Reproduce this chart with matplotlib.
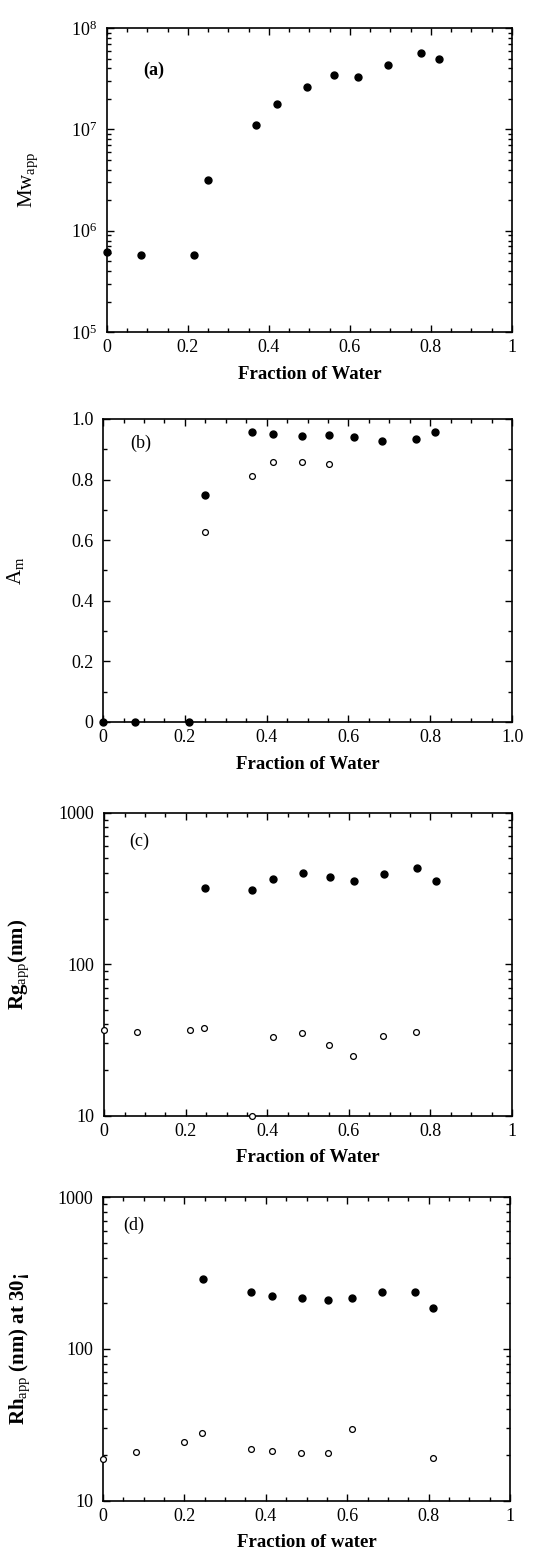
import matplotlib
matplotlib.use("Agg")
import matplotlib.pyplot as plt
from matplotlib.ticker import LogLocator, MultipleLocator, NullFormatter

plt.rcParams["font.family"] = ["Liberation Serif", "DejaVu Serif"]
plt.rcParams["mathtext.fontset"] = "custom"
plt.rcParams["mathtext.rm"] = "Liberation Serif"
plt.rcParams["mathtext.it"] = "Liberation Serif:italic"
plt.rcParams["mathtext.bf"] = "Liberation Serif:bold"

# (a) apparent molecular weight
mw_x = [0.0, 0.084, 0.214, 0.249, 0.368, 0.42, 0.495, 0.56, 0.62, 0.693, 0.775, 0.821]
mw_y = [6.2e5, 5.7e5, 5.7e5, 3.2e6, 1.1e7, 1.77e7, 2.6e7, 3.45e7, 3.3e7, 4.3e7, 5.7e7, 4.9e7]

# (b) A_m, filled and open
am_fx = [0.0, 0.079, 0.209, 0.248, 0.363, 0.416, 0.486, 0.553, 0.613, 0.683, 0.765, 0.812]
am_fy = [0.0, 0.0, 0.0, 0.75, 0.956, 0.952, 0.943, 0.947, 0.941, 0.927, 0.934, 0.956]
am_ox = [0.248, 0.363, 0.416, 0.486, 0.553]
am_oy = [0.627, 0.812, 0.859, 0.859, 0.851]

# (c) Rg_app
rg_fx = [0.246, 0.363, 0.415, 0.488, 0.554, 0.613, 0.686, 0.766, 0.813]
rg_fy = [317, 309, 366, 400, 378, 354, 394, 430, 356]
rg_ox = [0.0, 0.081, 0.21, 0.245, 0.362, 0.413, 0.486, 0.552, 0.611, 0.684, 0.764]
rg_oy = [36.6, 35.7, 36.7, 37.9, 10.0, 33.0, 35.3, 29.4, 24.9, 33.7, 35.8]

# (d) Rh_app
rh_fx = [0.246, 0.364, 0.415, 0.488, 0.554, 0.613, 0.686, 0.767, 0.812]
rh_fy = [291, 238, 222, 217, 209, 216, 236, 236, 185]
rh_ox = [0.0, 0.081, 0.2, 0.244, 0.363, 0.414, 0.487, 0.553, 0.612, 0.812]
rh_oy = [18.8, 21.0, 24.5, 28.1, 22.0, 21.4, 20.7, 20.7, 29.5, 19.1]

x_ticks = [0, 0.2, 0.4, 0.6, 0.8, 1]
x_labels = ["0", "0.2", "0.4", "0.6", "0.8", "1"]

fig = plt.figure(figsize=(5.34, 15.53), dpi=100)
ax_a = fig.add_axes([0.2004, 0.7862, 0.758, 0.1957])
ax_b = fig.add_axes([0.193, 0.5351, 0.766, 0.1951])
ax_c = fig.add_axes([0.1953, 0.2816, 0.7635, 0.1951])
ax_d = fig.add_axes([0.193, 0.0337, 0.762, 0.1954])


def style(ax):
    ax.tick_params(which="both", direction="in", top=True, right=True,
                   labelsize=13, width=1)
    ax.tick_params(which="major", length=5)
    ax.tick_params(which="minor", length=3)
    ax.tick_params(axis="x", pad=5)
    ax.tick_params(axis="y", pad=7)
    for s in ax.spines.values():
        s.set_linewidth(1.2)
    ax.set_xlim(0, 1)
    ax.xaxis.set_minor_locator(MultipleLocator(0.05))


def filled(ax, x, y):
    ax.plot(x, y, "o", color="black", ms=5, clip_on=False, zorder=5)


def hollow(ax, x, y):
    ax.plot(x, y, "o", mfc="white", mec="black", mew=0.9, ms=4.2,
            clip_on=False, zorder=5)


def log_y(ax, lo, hi):
    ax.set_yscale("log")
    ax.set_ylim(lo, hi)
    ax.yaxis.set_minor_locator(LogLocator(base=10, subs=range(2, 10)))
    ax.yaxis.set_minor_formatter(NullFormatter())


def xlab(ax, text):
    ax.set_xlabel(text, fontsize=13.5, fontweight="bold", labelpad=7)


def ylab(ax, text, xpos, **kw):
    ax.set_ylabel(text, fontsize=15, va="center", **kw)
    ax.yaxis.set_label_coords(xpos, 0.5)


# (a)
style(ax_a)
log_y(ax_a, 1e5, 1e8)
ax_a.set_yticks([1e5, 1e6, 1e7, 1e8],
                ["$10^5$", "$10^6$", "$10^7$", "$10^8$"])
ax_a.set_xticks(x_ticks, x_labels)
filled(ax_a, mw_x, mw_y)
xlab(ax_a, "Fraction of Water")
ylab(ax_a, r"Mw$_{\mathrm{app}}$", -0.195)
ax_a.text(0.09, 0.862, "(a)", transform=ax_a.transAxes, fontsize=13,
          fontweight="bold", va="center")

# (b)
style(ax_b)
ax_b.set_ylim(0, 1)
ax_b.set_yticks([0, 0.2, 0.4, 0.6, 0.8, 1.0], ["0", "0.2", "0.4", "0.6", "0.8", "1.0"])
ax_b.yaxis.set_minor_locator(MultipleLocator(0.1))
ax_b.set_xticks([0, 0.2, 0.4, 0.6, 0.8, 1.0], ["0", "0.2", "0.4", "0.6", "0.8", "1.0"])
filled(ax_b, am_fx, am_fy)
hollow(ax_b, am_ox, am_oy)
xlab(ax_b, "Fraction of Water")
ylab(ax_b, r"A$_{\mathrm{m}}$", -0.215)
ax_b.text(0.066, 0.92, "(b)", transform=ax_b.transAxes, fontsize=13, va="center")

# (c)
style(ax_c)
log_y(ax_c, 10, 1000)
ax_c.set_yticks([10, 100, 1000], ["10", "100", "1000"])
ax_c.set_xticks(x_ticks, x_labels)
filled(ax_c, rg_fx, rg_fy)
hollow(ax_c, rg_ox, rg_oy)
xlab(ax_c, "Fraction of Water")
ylab(ax_c, r"Rg$_{\mathrm{app}}$(nm)", -0.21, fontweight="bold")
ax_c.text(0.06, 0.904, "(c)", transform=ax_c.transAxes, fontsize=13, va="center")

# (d)
style(ax_d)
log_y(ax_d, 10, 1000)
ax_d.set_yticks([10, 100, 1000], ["10", "100", "1000"])
ax_d.set_xticks(x_ticks, x_labels)
filled(ax_d, rh_fx, rh_fy)
hollow(ax_d, rh_ox, rh_oy)
xlab(ax_d, "Fraction of water")
ylab(ax_d, r"Rh$_{\mathrm{app}}$ (nm) at 30¡", -0.204, fontweight="bold")
ax_d.text(0.049, 0.908, "(d)", transform=ax_d.transAxes, fontsize=13, va="center")

fig.savefig("out.png", dpi=100)
